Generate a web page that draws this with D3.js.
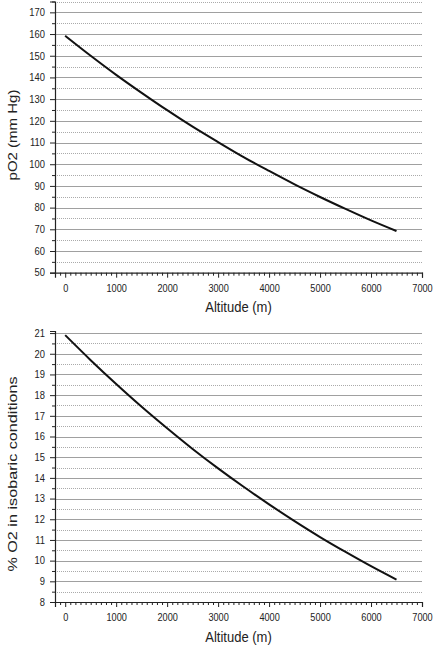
<!DOCTYPE html>
<html>
<head>
<meta charset="utf-8">
<script src="https://cdn.jsdelivr.net/npm/d3@7"></script>
<style>
  body { margin: 0; background: #fff; }
  text { font-family: "Liberation Sans", Arial, sans-serif; fill: #222; }
</style>
</head>
<body>
<div id="chart"></div>
<script>
// altitude in metres, read every 500 m
const altitude = [0, 500, 1000, 1500, 2000, 2500, 3000, 3500, 4000, 4500, 5000, 5500, 6000, 6500];
// partial pressure of O2 (mm Hg)
const pO2 = [159.2, 150.0, 141.2, 132.9, 124.9, 117.3, 110.2, 103.3, 96.9, 90.7, 84.9, 79.4, 74.1, 69.2];
// equivalent % O2 at sea-level pressure
const pctO2 = [20.9, 19.69, 18.54, 17.44, 16.40, 15.40, 14.46, 13.57, 12.72, 11.91, 11.14, 10.42, 9.73, 9.08];

const xTicks = [0, 1000, 2000, 3000, 4000, 5000, 6000, 7000];
const topTicks = [50, 60, 70, 80, 90, 100, 110, 120, 130, 140, 150, 160, 170];
const bottomTicks = [8, 9, 10, 11, 12, 13, 14, 15, 16, 17, 18, 19, 20, 21];

const width = 434, height = 649;
const left = 55, right = 422;
// the source picture is a bit squeezed sideways, so text gets narrowed too
const squeeze = 0.86;

const svg = d3.select('#chart').append('svg')
    .attr('width', width)
    .attr('height', height);

const x = d3.scaleLinear().domain([-200, 7000]).range([left, right]);

function drawPanel(values, yDomain, yRange, majorTicks, minorStep, yTitle, titleSize, titleY) {
    const y = d3.scaleLinear().domain(yDomain).range(yRange);
    const g = svg.append('g');
    const minor = d3.range(yDomain[0], yDomain[1] + 1e-9, minorStep)
        .filter(v => !majorTicks.some(t => Math.abs(t - v) < 1e-9));

    // minor gridlines (dotted)
    g.selectAll('.minor-grid')
        .data(minor)
        .enter().append('line')
        .attr('x1', left).attr('x2', right)
        .attr('y1', d => Math.round(y(d)) + 0.5)
        .attr('y2', d => Math.round(y(d)) + 0.5)
        .attr('stroke', '#aaa')
        .attr('stroke-width', 1)
        .attr('stroke-dasharray', '1,1');

    // major gridlines
    g.selectAll('.major-grid')
        .data(majorTicks.filter(t => t !== yDomain[0]))
        .enter().append('line')
        .attr('x1', left).attr('x2', right)
        .attr('y1', d => Math.round(y(d)) + 0.5)
        .attr('y2', d => Math.round(y(d)) + 0.5)
        .attr('stroke', '#a0a0a0')
        .attr('stroke-width', 1);

    // y axis
    const yAxis = g.append('g')
        .attr('transform', `translate(${left},0)`)
        .call(d3.axisLeft(y).tickValues(majorTicks).tickSize(5).tickPadding(6).tickFormat(d3.format('d')));
    yAxis.selectAll('.tick text').attr('transform', 'scale(0.92,1)');
    g.append('g')
        .attr('transform', `translate(${left},0)`)
        .call(d3.axisLeft(y).tickValues(minor).tickSize(3).tickFormat(''))
        .select('.domain').remove();

    // x axis
    const xAxis = g.append('g')
        .attr('transform', `translate(0,${yRange[0]})`)
        .call(d3.axisBottom(x).tickValues(xTicks).tickSize(5).tickPadding(7).tickFormat(d3.format('d')));
    xAxis.selectAll('.tick text').attr('transform', 'scale(0.9,1)');
    const xMinor = d3.range(-200, 7001, 100).filter(v => v % 1000 !== 0);
    g.append('g')
        .attr('transform', `translate(0,${yRange[0]})`)
        .call(d3.axisBottom(x).tickValues(xMinor).tickSize(3).tickFormat(''))
        .select('.domain').remove();

    g.selectAll('.domain').attr('stroke', '#222').attr('stroke-width', 1.2);
    g.selectAll('.tick line').attr('stroke', '#222');
    g.selectAll('.tick text').style('font-size', '10.2px').style('fill', '#222');

    // curve
    const line = d3.line()
        .x((d, i) => x(altitude[i]))
        .y(d => y(d))
        .curve(d3.curveMonotoneX);
    g.append('path')
        .datum(values)
        .attr('d', line)
        .attr('fill', 'none')
        .attr('stroke', '#111')
        .attr('stroke-width', 2);

    // axis titles
    g.append('text')
        .attr('transform', `translate(${(left + right) / 2},${yRange[0] + 39.5}) scale(${squeeze - 0.02},1)`)
        .attr('text-anchor', 'middle')
        .style('font-size', '15.5px')
        .text('Altitude (m)');
    g.append('text')
        .attr('transform', `translate(16.5,${titleY}) scale(0.8,1) rotate(-90)`)
        .attr('text-anchor', 'middle')
        .style('font-size', titleSize + 'px')
        .text(yTitle);
}

drawPanel(pO2, [50, 175], [272.7, 1.5], topTicks, 5, 'pO2 (mm Hg)', 15, 135);
drawPanel(pctO2, [8, 21.1], [602, 331], bottomTicks, 0.5, '% O2 in isobaric conditions', 16.2, 474);
</script>
</body>
</html>
